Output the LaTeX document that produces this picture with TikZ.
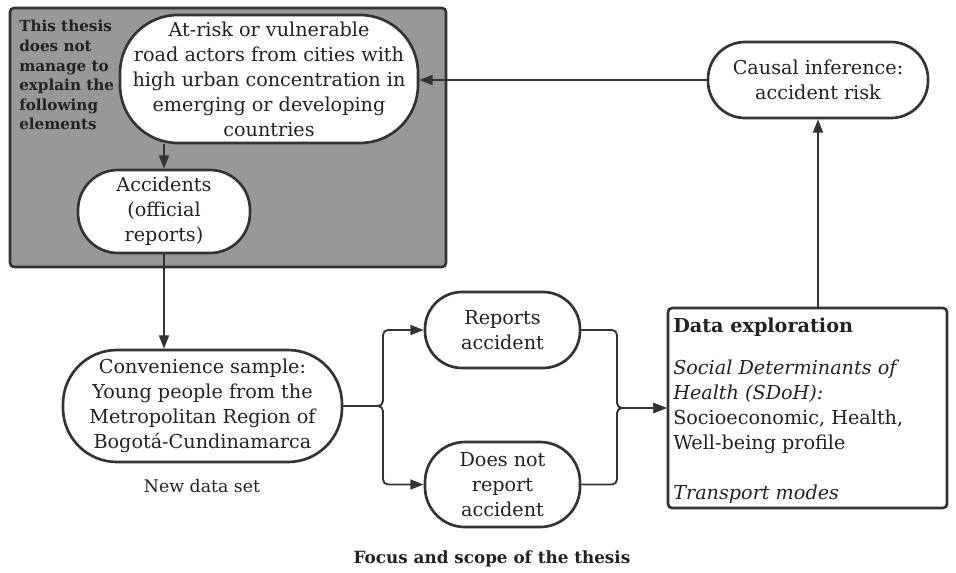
\documentclass[tikz,border=0pt]{standalone}
\usepackage{fontspec}
\setmainfont{DejaVu Serif}
\usetikzlibrary{arrows.meta}
\newdimen\pxu \pxu=0.75pt
\definecolor{ink}{HTML}{333333}
\definecolor{txt}{HTML}{222222}
\definecolor{panel}{HTML}{989898}
\pgfdeclarelayer{back}
\pgfdeclarelayer{wires}
\pgfsetlayers{back,wires,main}

\begin{document}
\begin{tikzpicture}[x=0.75pt,y=-0.75pt,
  lbl/.style={font=\fontsize{14.4}{18.75}\selectfont, text=txt, align=center, inner sep=0pt},
  pill/.style={lbl, draw=ink, line width=2pt, fill=white},
  wire/.style={draw=ink, line width=1.4pt},
  arr/.style={wire, -{Triangle[length=10pt, width=7.5pt]}},
]
\useasboundingbox (0,0) rectangle (956,572);

% out-of-scope panel
\begin{pgfonlayer}{back}
  \node[draw=ink, line width=2pt, fill=panel, rounded corners=4\pxu,
        minimum width=436\pxu, minimum height=259\pxu, inner sep=0pt]
        (panel) at (228,137.5) {};
\end{pgfonlayer}
\node[lbl, align=left, anchor=north west, font=\bfseries\fontsize{11.4}{14.7}\selectfont]
  (note) at (19,20) {This thesis\\does not\\manage to\\explain the\\following\\elements};

% nodes
\node[pill, minimum width=298\pxu, minimum height=128\pxu, rounded corners=58\pxu]
  (actors) at (269,79) {At-risk or vulnerable\\road actors from cities with\\high urban concentration in\\emerging or developing\\countries};
\node[pill, minimum width=172\pxu, minimum height=83\pxu, rounded corners=40\pxu]
  (acc) at (164,211.5) {Accidents\\(official\\reports)};
\node[pill, minimum width=279\pxu, minimum height=112\pxu, rounded corners=54\pxu]
  (conv) at (202.5,406) {Convenience sample:\\Young people from the\\Metropolitan Region of\\Bogotá-Cundinamarca};
\node[lbl, font=\fontsize{13}{15}\selectfont] (newset) at (202,486) {New data set};
\node[pill, minimum width=155\pxu, minimum height=76\pxu, rounded corners=37\pxu]
  (rep) at (502.5,330) {Reports\\accident};
\node[pill, minimum width=155\pxu, minimum height=85\pxu, rounded corners=40\pxu]
  (dnr) at (502.5,484.5) {Does not\\report\\accident};
\node[pill, minimum width=279\pxu, minimum height=200\pxu, rounded corners=4\pxu]
  (data) at (807.5,408) {};
\node[lbl, align=left, anchor=north west] (datatxt) at (673,318)
  {\textbf{Data exploration}\\[17\pxu]
   \textit{Social Determinants of}\\
   \textit{Health (SDoH):}\\
   Socioeconomic, Health,\\
   Well-being profile\\[25\pxu]
   \textit{Transport modes}};
\node[pill, minimum width=220\pxu, minimum height=76\pxu, rounded corners=37\pxu]
  (causal) at (818,80) {Causal inference:\\accident risk};
\node[lbl, font=\bfseries\fontsize{12.6}{14}\selectfont] (focus) at (492,559) {Focus and scope of the thesis};

% junction points
\coordinate (b1) at (383,406);
\coordinate (b2) at (617,408);

% connectors
\begin{pgfonlayer}{wires}
  \draw[arr] (causal.west) -- (causal.west -| actors.east);
  \draw[arr] (acc.north |- actors.south) -- (acc.north);
  \draw[arr] (acc.south) -- (acc.south |- conv.north);
  \draw[arr, rounded corners=5\pxu] (conv.east) -- (b1) |- (rep.west);
  \draw[arr, rounded corners=5\pxu] (conv.east) -- (b1) |- (dnr.west);
  \draw[arr, rounded corners=5\pxu] (rep.east) -| (b2) -- (data.west);
  \draw[arr, rounded corners=5\pxu] (dnr.east) -| (b2) -- (data.west);
  \draw[arr] (causal.south |- data.north) -- (causal.south);
\end{pgfonlayer}
\end{tikzpicture}
\end{document}
